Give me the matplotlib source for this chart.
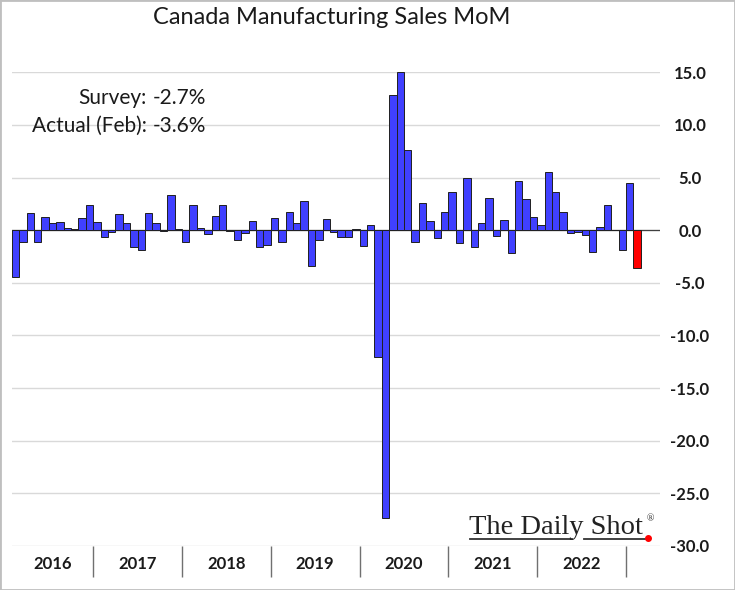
import matplotlib
matplotlib.use('Agg')
import matplotlib.pyplot as plt
import numpy as np
from matplotlib.lines import Line2D
from matplotlib.patches import Rectangle

plt.rcParams['axes.unicode_minus'] = False
plt.rcParams['font.family'] = ['Lato', 'DejaVu Sans']

# ---- data (monthly MoM %, Feb 2016 .. Feb 2023) ----
year_labels = ['2016', '2017', '2018', '2019', '2020', '2021', '2022']
months_per_year = [11, 12, 12, 12, 12, 12, 12, 2]   # 2016 starts in Feb; 2023 has Jan-Feb
values_2016 = [-4.45, -1.1, 1.6, -1.1, 1.3, 0.7, 0.8, 0.2, 0.1, 1.15, 2.4]
values_2017 = [0.8, -0.6, -0.2, 1.5, 0.7, -1.6, -1.9, 1.6, 0.7, -0.1, 3.3, 0.1]
values_2018 = [-1.1, 2.4, 0.2, -0.35, 1.35, 2.35, -0.1, -0.9, -0.3, 0.85, -1.6, -1.4]
values_2019 = [1.2, -1.1, 1.7, 0.65, 2.8, -3.4, -0.9, 1.1, -0.2, -0.6, -0.6, 0.1]
values_2020 = [-1.5, 0.5, -12.05, -27.3, 12.85, 15.05, 7.6, -1.15, 2.6, 0.9, -0.75, 1.7]
values_2021 = [3.65, -1.22, 4.95, -1.55, 0.7, 3.05, -0.55, 1.0, -2.2, 4.7, 3.0, 1.3]
values_2022 = [0.45, 5.5, 3.65, 1.7, -0.3, -0.2, -0.45, -2.1, 0.3, 2.35, 0.05, -1.85]
values_2023 = [4.45, -3.6]
values = (values_2016 + values_2017 + values_2018 + values_2019 +
          values_2020 + values_2021 + values_2022 + values_2023)
survey = -2.7
actual = -3.6
y_ticks = [15, 10, 5, 0, -5, -10, -15, -20, -25, -30]

W, H = 735, 590
fig = plt.figure(figsize=(W / 100, H / 100), dpi=100)
fig.patch.set_facecolor('white')


def fx(px):
    return px / W


def fy(py):
    return 1 - py / H


ax = fig.add_axes([fx(11.7), fy(546), fx(660) - fx(11.7), fy(72.3) - fy(546)])

x = np.arange(len(values))
colors = ['#4040FF'] * (len(values) - 1) + ['#FF0000']
ax.bar(x, values, width=1.0, color=colors, edgecolor='#202020', linewidth=0.7,
       zorder=3, clip_on=False)
ax.axhline(0, color='#404040', lw=0.9, zorder=2)

ax.set_xlim(-0.5, 87.1)
ax.set_ylim(-30, 15)
ax.set_yticks(y_ticks)
ax.set_yticklabels([f'{v:.1f}' for v in y_ticks])
ax.grid(axis='y', color='#D9D9D9', lw=1)
ax.set_axisbelow(True)
for s in ax.spines.values():
    s.set_visible(False)

ax.yaxis.tick_right()
ax.tick_params(axis='y', length=0, pad=21.5, labelsize=12, labelcolor='#1a1a1a')
for lbl in ax.get_yticklabels():
    lbl.set_horizontalalignment('center')
    lbl.set_fontweight('bold')

bounds = np.cumsum([-0.5] + months_per_year)
centers = [(bounds[i] + bounds[i + 1]) / 2 for i in range(len(year_labels))]
separators = bounds[1:len(year_labels) + 1]
ax.set_xticks(centers)
ax.set_xticklabels(year_labels, fontweight='bold')
ax.tick_params(axis='x', which='major', length=0, pad=7.5, labelsize=12, labelcolor='#1a1a1a')
ax.set_xticks(separators, minor=True)
ax.tick_params(axis='x', which='minor', length=22.5, width=1, color='#707070', direction='out')

fig.text(fx(332), fy(18), 'Canada Manufacturing Sales MoM', ha='center', va='center',
         fontsize=17, color='#1a1a1a')

fs = 15
fig.text(fx(147), fy(98), 'Survey:', ha='right', va='center', fontsize=fs, color='#1a1a1a')
fig.text(fx(153), fy(98), f'{survey:.1f}%', ha='left', va='center', fontsize=fs, color='#1a1a1a')
fig.text(fx(147), fy(126), 'Actual (Feb):', ha='right', va='center', fontsize=fs, color='#1a1a1a')
fig.text(fx(153), fy(126), f'{actual:.1f}%', ha='left', va='center', fontsize=fs, color='#1a1a1a')

# logo
fig.text(fx(469), fy(534), 'The Daily Shot', ha='left', va='baseline', fontsize=20.5,
         family='Liberation Serif', color='#222222')
fig.text(fx(647), fy(519), '®', ha='left', va='center', fontsize=7,
         family='Liberation Serif', color='#222222')
fig.add_artist(Line2D([fx(470), fx(572)], [fy(538.5), fy(538.5)], transform=fig.transFigure,
                      color='#333333', lw=1.3))
fig.add_artist(Line2D([fx(584), fx(645)], [fy(538.5), fy(538.5)], transform=fig.transFigure,
                      color='#333333', lw=1.3))
fig.add_artist(Line2D([fx(648)], [fy(538)], transform=fig.transFigure, marker='o',
                      markersize=4, color='#FF0000', lw=0))

fig.add_artist(Rectangle((0, 0), 1, 1, transform=fig.transFigure, fill=False,
                         edgecolor='#BFBFBF', lw=2))

fig.savefig('out.png', dpi=100)
